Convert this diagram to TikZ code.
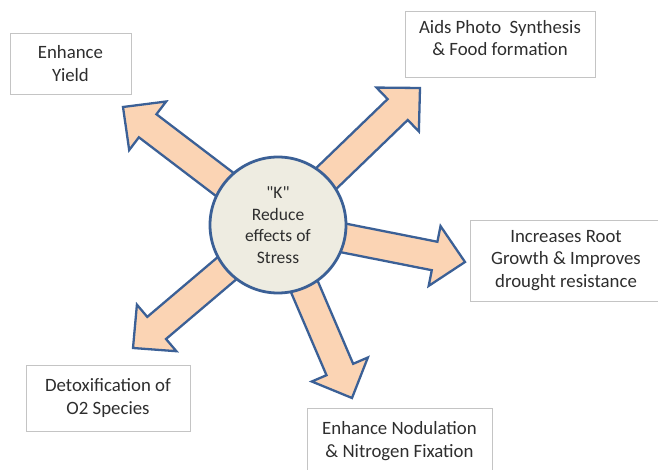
\documentclass[tikz,border=0pt]{standalone}
\usepackage{fontspec}
\setmainfont{Carlito}
\usetikzlibrary{calc,backgrounds}
\definecolor{arrowfill}{HTML}{FBD4B4}
\definecolor{edgeblue}{HTML}{3B6096}
\definecolor{discfill}{HTML}{EEECE1}
\definecolor{txtgray}{HTML}{2E2E2E}
\definecolor{boxline}{HTML}{C4C4C4}
\newcommand\sq{{\XeTeXglyph\XeTeXcharglyph"22\relax}}
\tikzset{
  infobox/.style={draw=boxline, line width=0.9pt, fill=white, rectangle, inner sep=0pt,
    align=center, text=txtgray, font=\fontsize{18.8}{22.5}\selectfont},
  fatarrow/.style={draw=edgeblue, fill=arrowfill, line width=2.3pt, line join=miter},
  disc/.style={circle, draw=edgeblue, line width=2.8pt, fill=discfill, minimum size=136pt,
    inner sep=0pt, align=center, text=txtgray, font=\fontsize{17.5}{21.5}\selectfont}
}
\newcommand\karrow[2]{%
  \coordinate (kb) at ($(#1.center)!40pt!(#2)$);
  \coordinate (kh) at ($(#2)!31pt!(#1.center)$);
  \filldraw[fatarrow] ($(kb)!14.5pt!90:(#2)$) -- ($(kh)!14.5pt!90:(#2)$)
    -- ($(kh)!30.5pt!90:(#2)$) -- (#2) -- ($(kh)!30.5pt!-90:(#2)$)
    -- ($(kh)!14.5pt!-90:(#2)$) -- ($(kb)!14.5pt!-90:(#2)$) -- cycle;}
\begin{document}
\begin{tikzpicture}[x=1pt,y=-1pt]
\useasboundingbox (0,0) rectangle (658,470);
% boxes
\node[infobox, minimum width=121pt, minimum height=61pt] (yield) at (70.5,63.5) {Enhance\\Yield};
\node[infobox, minimum width=190pt, minimum height=66pt, text depth=12pt] (photo) at (500,44) {Aids Photo\ \ Synthesis\\\& Food formation};
\node[infobox, minimum width=192pt, minimum height=81pt] (root) at (566,260.5) {Increases Root\\Growth \& Improves\\drought resistance};
\node[infobox, minimum width=164pt, minimum height=66pt] (detox) at (108,398) {Detoxification of\\O2 Species};
\node[infobox, minimum width=185pt, minimum height=66pt] (nod) at (399.5,441) {Enhance Nodulation\\\& Nitrogen Fixation};
% centre
\node[disc] (k) at (278,225) {\sq K\sq\\Reduce\\effects of\\Stress};
% arrow tips
\coordinate (t1) at (123,107);
\coordinate (t2) at (420,88);
\coordinate (t3) at (465,262);
\coordinate (t4) at (133,348);
\coordinate (t5) at (352,398);
\begin{scope}[on background layer]
\karrow{k}{t1}
\karrow{k}{t2}
\karrow{k}{t3}
\karrow{k}{t4}
\karrow{k}{t5}
\end{scope}
\end{tikzpicture}
\end{document}
